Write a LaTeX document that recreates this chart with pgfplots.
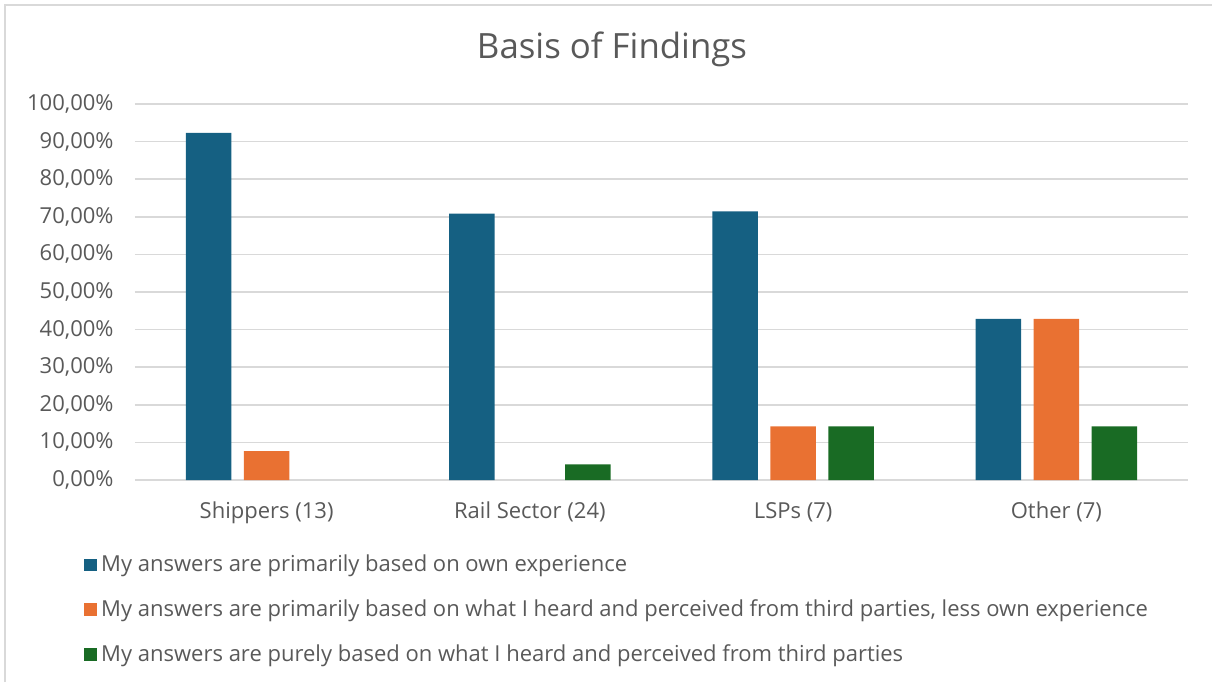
\documentclass[border=0pt]{standalone}
\usepackage{pgfplots}
\pgfplotsset{compat=1.18}
\usepackage{fontspec}
\setmainfont{Open Sans}
\definecolor{cblue}{HTML}{156082}
\definecolor{corange}{HTML}{E97132}
\definecolor{cgreen}{HTML}{196B24}
\definecolor{txt}{HTML}{595959}
\definecolor{grd}{HTML}{D9D9D9}

\begin{document}
\begin{tikzpicture}
% page frame
\path[use as bounding box] (0,0) rectangle (606pt,341pt);
\draw[grd, line width=0.75pt] (2.5pt,0) -- (2.5pt,338.5pt) -- (606pt,338.5pt);
\node[txt, font=\fontsize{17.4}{20}\selectfont] at (306pt,316.5pt) {Basis of Findings};

\begin{axis}[
  at={(67.5pt,101pt)}, anchor=south west,
  scale only axis, width=526.5pt, height=188pt,
  xmin=-0.5, xmax=3.5, ymin=0, ymax=100,
  axis line style={draw=none},
  ybar, bar width=0.172,
  xtick=data,
  xticklabels={Shippers (13), Rail Sector (24), LSPs (7), Other (7)},
  ytick={0,10,...,100},
  ymajorgrids, major grid style={grd, line width=0.75pt},
  major tick length=0pt,
  /pgf/number format/assume math mode=true,
  yticklabel={\pgfmathprintnumber[fixed,fixed zerofill,precision=2,use comma]{\tick}\%},
  tick label style={txt, font=\fontsize{11}{13}\selectfont},
  xticklabel style={yshift=-7.5pt},
  yticklabel style={xshift=-7.2pt},
  legend cell align=left,
  legend style={at={(-0.0484,-0.188)}, anchor=north west, draw=none, fill=none,
    font=\fontsize{11}{13}\selectfont, text=txt, row sep=8.5pt, inner sep=0pt},
  legend image code/.code={\fill[#1] (0pt,-3.2pt) rectangle (6.4pt,3.2pt);},
]
\addplot[fill=cblue, draw=none, bar shift=-0.2203] coordinates {(0,92.31) (1,70.83) (2,71.43) (3,42.86)};
% Rail Sector has no answers in this group (0 %)
\addplot[fill=corange, draw=none, bar shift=0] coordinates {(0,7.69) (2,14.29) (3,42.86)};
% Shippers have no answers in this group (0 %)
\addplot[fill=cgreen, draw=none, bar shift=0.2203] coordinates {(1,4.17) (2,14.29) (3,14.29)};
\legend{My answers are primarily based on own experience,
  {My answers are primarily based on what I heard and perceived from third parties, less own experience},
  My answers are purely based on what I heard and perceived from third parties}
\end{axis}
\end{tikzpicture}
\end{document}
